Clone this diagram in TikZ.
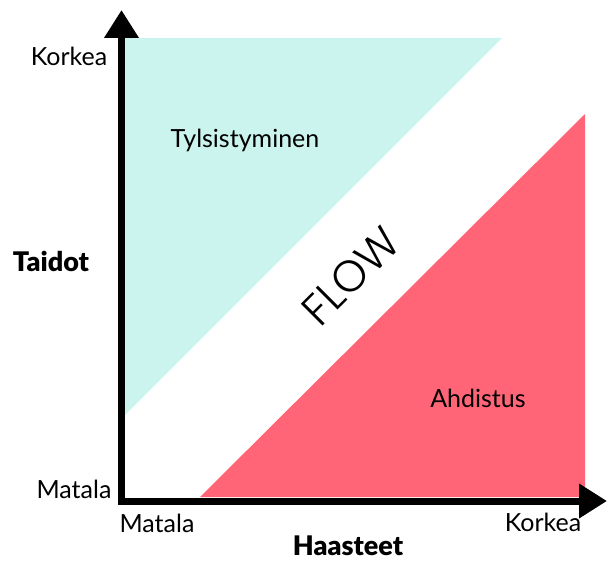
\documentclass[tikz,border=0pt]{standalone}
\usepackage{fontspec}
\setmainfont{Lato}
\newfontfamily\flowfont{Poppins Light}
\newfontfamily\heavyfont{Lato Black}
\usetikzlibrary{arrows.meta}
\definecolor{boredcol}{HTML}{CBF4EE}
\definecolor{anxcol}{HTML}{FF6576}
\begin{document}
\begin{tikzpicture}[x=1pt,y=1pt,
  lbl/.style={anchor=base,font=\fontsize{25}{29}\selectfont,inner sep=0pt},
  blbl/.style={lbl,font=\heavyfont\fontsize{27}{31}\selectfont},
  axis/.style={line width=7pt,line join=miter,
    {Triangle[length=28pt,width=33pt]}-{Triangle[length=28pt,width=33pt]}}]
\useasboundingbox (0,0) rectangle (607,560);
% regions
\fill[boredcol] (125,522) -- (502,522) -- (125,145) -- cycle;
\fill[anxcol] (200,63) -- (585,63) -- (585,446) -- cycle;
% axes
\coordinate (ytip) at (121.5,550);
\coordinate (origin) at (121.5,59);
\coordinate (xtip) at (607,59);
\draw[axis] (ytip) -- (origin) -- (xtip);
% labels
\node[lbl] (ykorkea) at (69,494) {Korkea};
\node[blbl] (taidot) at (51,288) {Taidot};
\node[lbl] (ymatala) at (74,62) {Matala};
\node[lbl] (xmatala) at (157,28) {Matala};
\node[lbl] (xkorkea) at (543,29) {Korkea};
\node[blbl] (haasteet) at (348,5) {Haasteet};
\node[lbl] (tyls) at (245,412) {Tylsistyminen};
\node[lbl] (ahd) at (478,153) {Ahdistus};
\node[rotate=45,font=\flowfont\fontsize{44}{48}\selectfont,inner sep=0pt] (flow) at (351,284) {FLOW};
\end{tikzpicture}
\end{document}
